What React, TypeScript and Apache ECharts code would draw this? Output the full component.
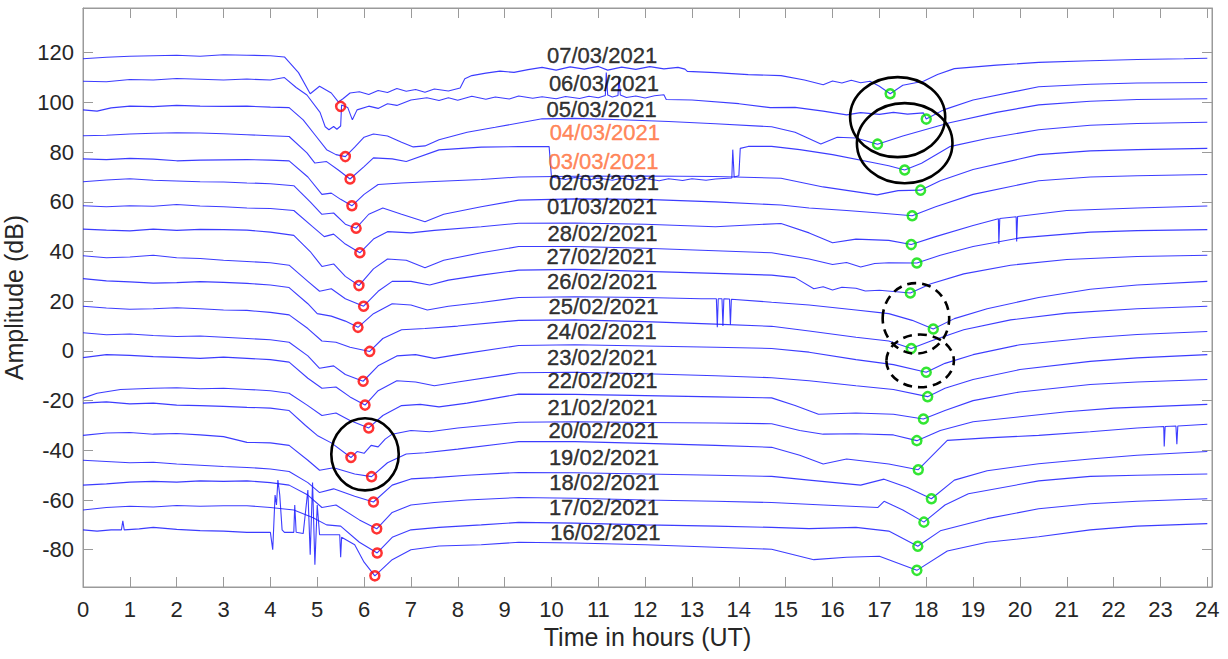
import React, { useEffect, useRef } from 'react';
import * as echarts from 'echarts';

// ---------- labels ----------
const dateLabels = ['07/03/2021','06/03/2021','05/03/2021','04/03/2021','03/03/2021','02/03/2021','01/03/2021','28/02/2021','27/02/2021','26/02/2021','25/02/2021','24/02/2021','23/02/2021','22/02/2021','21/02/2021','20/02/2021','19/02/2021','18/02/2021','17/02/2021','16/02/2021'];
const labelX = [11.08,11.12,11.07,11.14,11.11,11.12,11.08,11.09,11.07,11.08,11.11,11.07,11.08,11.09,11.09,11.11,11.12,11.13,11.12,11.15];
const labelY = [118.9,107.5,97.1,87.8,76.2,67.6,58.0,47.3,37.9,27.8,17.7,7.9,-2.5,-11.9,-22.7,-32.1,-42.9,-52.9,-63.0,-73.1];
const highlighted = ['04/03/2021','03/03/2021'];

const xTicks = [0,1,2,3,4,5,6,7,8,9,10,11,12,13,14,15,16,17,18,19,20,21,22,23,24];
const yTicks = [-80,-60,-40,-20,0,20,40,60,80,100,120];

// ---------- traces (hours UT, dB) ----------
const t0703 = [[0,117.6],[0.5,118.2],[1,118.6],[1.5,118.8],[2,119.0],[2.5,118.6],[3,119.2],[3.5,119.0],[4,118.8],[4.3,118.3],[4.6,112],[4.85,103.5],[5.05,106.5],[5.3,103.8],[5.45,100.2],[5.55,101.5],[5.7,103.8],[5.9,104.3],[6.1,103.2],[6.3,104.8],[6.5,104.0],[6.7,105.6],[6.9,104.5],[7.1,105.2],[7.3,104.1],[7.5,105.4],[7.8,104.6],[8.05,105.8],[8.15,109.5],[8.3,110.8],[8.6,111.8],[8.9,112.6],[9.2,112.1],[9.5,113.2],[9.8,114.1],[10.1,113.0],[10.4,114.3],[10.7,113.4],[11.0,114.5],[11.2,113.0],[11.5,114.2],[11.8,113.3],[12.1,114.4],[12.4,113.5],[12.7,114.1],[12.85,113.4],[12.9,112.5],[13.5,112.0],[14.2,111.2],[14.9,110.8],[15.4,109.0],[15.8,107.1],[16.0,108.6],[16.2,107.8],[16.4,108.9],[16.6,107.9],[16.8,108.5],[17.0,106.5],[17.23,103.5],[17.5,106.9],[17.94,108.5],[18.24,111.2],[18.6,113.6],[19.5,115.0],[20.4,116.1],[21.5,116.8],[22.5,117.3],[23.5,117.6],[24,117.8]];
const t0603 = [[0,108.5],[0.5,108.3],[1,109.2],[1.5,109.0],[2,109.6],[2.5,109.3],[3,109.0],[3.5,109.4],[4,109.0],[4.3,110.0],[4.55,106.0],[4.78,103.0],[5.06,96.0],[5.17,90.2],[5.25,89.0],[5.35,90.3],[5.42,89.2],[5.5,90.5],[5.52,99.0],[5.65,98.0],[5.75,93.0],[5.85,97.0],[6.1,98.5],[6.3,97.6],[6.5,99.5],[6.7,98.8],[7.0,101.0],[7.34,101.9],[7.6,100.8],[7.8,101.9],[8.0,100.9],[8.3,102.5],[8.6,101.3],[8.8,102.2],[9.1,101.4],[9.3,102.6],[9.6,101.7],[9.8,102.3],[10.1,101.5],[10.3,102.4],[10.6,101.6],[10.8,102.5],[11.0,101.9],[11.15,102.8],[11.17,112.0],[11.2,103.0],[11.3,102.2],[11.42,102.8],[11.44,110.0],[11.47,103.0],[11.6,102.0],[11.8,102.6],[12.0,101.8],[12.2,102.7],[12.4,103.1],[12.45,101.2],[13.0,101.0],[14.0,99.5],[14.67,97.9],[15.2,98.0],[15.8,96.5],[16.3,95.0],[16.6,95.9],[17.0,95.2],[17.3,96.0],[17.6,95.3],[17.94,95.8],[18.0,93.3],[18.37,97.0],[19.0,101.0],[20.4,106.3],[21.5,107.3],[22.5,107.8],[24,108.0]];
const t0503 = [[0,97.0],[0.3,96.5],[0.6,97.8],[1,98.5],[1.5,98.3],[2,98.8],[2.5,98.5],[3,98.4],[3.5,98.5],[4,98.1],[4.4,97.9],[4.7,93.0],[4.95,87.0],[5.2,81.0],[5.4,79.0],[5.6,78.2],[5.8,82.0],[6.0,86.0],[6.2,87.3],[6.5,86.5],[6.8,84.0],[7.05,82.1],[7.3,82.5],[7.6,85.0],[8.2,88.0],[8.8,90.0],[9.8,93.4],[10.5,93.6],[11.5,93.0],[12.5,92.3],[13.5,91.4],[14.7,90.2],[15.2,88.0],[15.75,83.3],[16.1,86.0],[16.5,85.7],[16.96,83.2],[17.5,86.5],[18.5,91.8],[19.5,96.0],[20.4,99.0],[21.5,100.5],[22.5,101.2],[24,101.5]];
const t0403 = [[0,86.6],[0.5,86.8],[1,87.3],[1.5,87.6],[2,87.8],[2.5,87.7],[3,87.4],[3.5,87.0],[4,86.6],[4.4,86.3],[4.78,79.7],[4.95,75.6],[5.2,76.2],[5.45,72.8],[5.7,69.2],[6.0,74.2],[6.2,77.7],[6.6,77.3],[6.9,76.2],[7.6,80.9],[8.5,82.0],[9.3,82.2],[9.95,82.2],[10.0,70.0],[10.3,69.0],[10.5,69.8],[10.8,68.8],[11.0,69.6],[11.3,68.7],[11.5,69.5],[11.8,68.6],[12.0,69.4],[12.3,68.5],[12.5,69.3],[12.8,68.6],[13.0,69.3],[13.3,68.7],[13.5,69.2],[13.85,69.6],[13.87,81.0],[13.9,70.0],[14.0,70.5],[14.03,81.5],[14.2,82.3],[14.7,82.3],[15.3,81.0],[16.0,79.0],[16.8,76.0],[17.2,74.5],[17.54,72.8],[17.9,75.5],[18.5,82.2],[19.3,85.5],[20.4,89.0],[21.5,90.8],[22.5,91.5],[24,92.0]];
const t0303 = [[0,77.3],[0.5,77.0],[1,77.5],[1.5,77.2],[2,76.5],[2.5,76.8],[3,76.9],[3.5,77.0],[4,76.8],[4.4,76.5],[4.8,70.0],[5.1,63.0],[5.3,63.5],[5.5,61.0],[5.74,58.4],[6.0,63.0],[6.3,67.0],[6.8,67.6],[7.5,68.2],[8.5,69.0],[9.3,70.0],[10.5,70.3],[12,70.4],[13.5,70.2],[14.9,69.5],[15.8,66.0],[16.95,62.8],[17.4,64.5],[17.88,64.7],[18.3,68.5],[19,73.0],[20.4,79.0],[21.5,80.5],[22.5,81.0],[24,81.5]];
const t0203 = [[0,68.1],[0.5,68.8],[1,69.3],[1.5,68.7],[2,68.4],[2.5,68.1],[3,68.0],[3.5,67.6],[4,67.3],[4.5,66.5],[4.85,60.0],[5.1,55.0],[5.35,55.5],[5.6,51.0],[5.83,49.4],[6.1,55.0],[6.4,57.5],[6.8,55.0],[7.3,52.0],[7.7,55.0],[8.5,58.0],[9.3,60.7],[10.5,61.2],[12,61.0],[13.5,60.0],[14.9,58.7],[15.5,57.5],[16.3,56.5],[17,55.5],[17.7,54.4],[18.2,58.0],[19,63.0],[20.4,68.5],[21.5,70.0],[22.5,70.5],[24,71.0]];
const t0103 = [[0,58.4],[0.5,58.0],[1,58.4],[1.5,58.2],[2,58.9],[2.5,58.3],[3,58.0],[3.5,57.5],[4,57.3],[4.5,56.5],[4.9,50.0],[5.15,46.0],[5.35,47.0],[5.6,43.0],[5.91,39.5],[6.2,45.0],[6.5,48.0],[7,47.5],[7.5,48.5],[8.5,50.0],[9.3,51.4],[10.5,51.5],[12,51.0],[13.5,50.0],[14.9,51.3],[15.5,47.5],[16.0,43.5],[16.5,45.0],[17.2,44.5],[17.68,42.8],[18.2,46.0],[19,50.5],[19.54,53.2],[19.55,43.0],[19.57,53.3],[19.92,54.0],[19.93,44.0],[19.95,54.1],[21,56.5],[22.5,57.5],[24,58.3]];
const t2802 = [[0,49.0],[0.5,48.6],[1,48.3],[1.5,49.0],[2,48.5],[2.5,48.9],[3,48.8],[3.5,48.6],[4,47.8],[4.5,46.5],[4.85,40.0],[5.1,34.0],[5.35,35.0],[5.6,30.0],[5.89,26.3],[6.2,33.0],[6.5,37.0],[6.9,36.5],[7.3,33.5],[7.7,36.5],[8.5,39.5],[9.3,42.0],[10.5,42.0],[12,41.3],[13.5,40.3],[14.7,39.5],[15.5,37.0],[16.0,34.8],[16.3,35.6],[16.6,33.8],[16.9,35.2],[17.2,35.5],[17.8,35.4],[18.3,38.5],[19,42.0],[20,45.5],[21.5,47.8],[22.5,48.4],[24,48.8]];
const t2702 = [[0,38.3],[0.5,37.5],[1,37.8],[1.5,38.5],[2,37.5],[2.5,37.2],[3,36.5],[3.5,36.0],[4,35.5],[4.4,34.5],[4.8,28.0],[5.05,24.0],[5.3,25.0],[5.6,21.0],[5.99,18.0],[6.3,24.0],[6.6,28.0],[7,28.0],[7.4,26.5],[7.8,28.5],[8.5,30.5],[9.3,32.5],[10.5,32.8],[12,32.0],[13.5,31.2],[14.7,30.5],[15.2,29.5],[15.6,25.0],[15.8,25.8],[16.0,24.5],[16.2,25.6],[16.5,25.2],[16.7,24.1],[17.0,24.4],[17.66,23.3],[18.1,27.0],[18.8,31.0],[19.8,34.5],[21,36.8],[22.5,38.0],[24,38.5]];
const t2602 = [[0,29.1],[0.5,28.2],[1,27.8],[1.5,27.3],[2,27.5],[2.5,27.9],[3,27.6],[3.5,27.2],[4,26.5],[4.4,25.5],[4.8,19.0],[5.0,15.0],[5.3,14.0],[5.6,12.0],[5.87,9.5],[6.2,15.0],[6.6,19.0],[7,18.5],[7.35,16.5],[7.8,18.0],[8.5,19.5],[9.3,21.5],[10.5,21.8],[12,21.5],[13.2,21.0],[13.52,21.0],[13.54,9.5],[13.56,21.0],[13.64,21.0],[13.66,10.0],[13.68,21.0],[13.8,20.9],[13.82,10.5],[13.84,20.8],[14.7,19.6],[15.5,18.5],[16.5,16.5],[17.2,15.0],[17.7,12.3],[18.15,8.8],[18.6,13.0],[19.3,17.0],[20.4,21.5],[21.5,24.8],[22.5,26.5],[24,28.0]];
const t2502 = [[0,18.0],[0.5,17.3],[1,16.8],[1.5,17.0],[2,17.4],[2.5,17.0],[3,16.5],[3.5,16.3],[4,15.5],[4.4,14.5],[4.8,9.0],[5.1,4.0],[5.4,3.5],[5.7,1.5],[6.12,-0.2],[6.4,5.0],[6.8,8.5],[7.3,9.0],[8,10.0],[9.3,12.3],[10.5,12.5],[12,11.8],[13.5,10.8],[14.7,9.9],[15.5,8.0],[16.5,5.5],[17.2,4.0],[17.68,1.0],[18.1,4.0],[18.8,8.5],[19.8,12.5],[21,15.2],[22.5,17.0],[24,18.0]];
const t2402 = [[0,7.3],[0.5,6.5],[1,6.8],[1.5,6.2],[2,5.8],[2.5,6.0],[3,5.5],[3.5,5.0],[4,4.5],[4.4,3.5],[4.8,-2.0],[5.05,-7.0],[5.35,-6.0],[5.6,-9.5],[5.98,-12.2],[6.3,-6.0],[6.7,-2.0],[7.1,-1.5],[7.5,-3.0],[8,-1.5],[9.3,2.2],[10.5,2.5],[12,2.0],[13.5,1.5],[14.7,1.0],[15.5,-0.5],[16.5,-3.5],[17.3,-5.5],[18.0,-8.6],[18.4,-5.0],[19,-1.5],[20,2.5],[21.5,5.3],[22.5,6.6],[24,7.8]];
const t2302 = [[0,-2.7],[0.5,-1.5],[1,-1.8],[1.5,-2.3],[2,-2.6],[2.5,-3.0],[3,-2.5],[3.5,-3.0],[4,-3.5],[4.4,-4.5],[4.8,-11.0],[5.1,-15.0],[5.4,-14.5],[5.7,-18.5],[6.02,-21.8],[6.3,-16.0],[6.7,-12.0],[7.1,-12.5],[7.5,-14.0],[8,-12.5],[9.3,-8.8],[10.5,-8.6],[12,-9.2],[13.5,-10.0],[14.7,-10.8],[15.5,-12.0],[16.5,-14.0],[17.3,-15.5],[18.03,-18.4],[18.4,-15.0],[19,-11.5],[20,-7.5],[21.5,-4.2],[22.5,-2.8],[24,-1.5]];
const t2202 = [[0,-19.0],[0.3,-17.0],[0.8,-15.5],[1.5,-15.0],[2,-14.8],[2.5,-15.2],[3,-15.0],[3.5,-15.5],[4,-16.0],[4.4,-17.0],[4.8,-22.0],[5.1,-26.0],[5.4,-25.0],[5.7,-28.0],[6.10,-31.0],[6.4,-26.0],[6.8,-22.0],[7.2,-21.5],[7.6,-22.5],[8.2,-21.0],[9.3,-17.4],[10.5,-17.5],[12,-18.0],[13.5,-18.5],[14.7,-18.9],[15.2,-22.0],[15.7,-25.5],[16.5,-25.0],[17.3,-25.5],[17.94,-27.4],[18.4,-24.0],[19,-20.0],[20,-16.5],[21.5,-13.5],[22.5,-12.5],[24,-11.5]];
const t2102 = [[0,-21.0],[0.5,-20.5],[1,-21.3],[1.5,-21.0],[2,-21.8],[2.5,-22.0],[3,-22.3],[3.5,-22.7],[4,-23.0],[4.4,-24.0],[4.75,-30.0],[5.0,-34.0],[5.3,-37.0],[5.72,-42.9],[5.85,-40.5],[6.0,-41.2],[6.15,-38.0],[6.3,-38.6],[6.45,-35.5],[6.6,-33.5],[7.0,-32.0],[7.4,-32.5],[8,-31.0],[9.3,-28.7],[10.5,-28.5],[12,-28.8],[13.5,-29.0],[14.7,-29.3],[15.3,-32.0],[15.8,-33.5],[16.5,-33.3],[17.3,-33.8],[17.8,-36.1],[18.3,-32.0],[19,-28.5],[20,-26.5],[21,-24.5],[22,-23.0],[24,-21.5]];
const t2002 = [[0,-34.0],[0.5,-33.0],[1,-32.8],[1.5,-33.5],[2,-33.2],[2.5,-33.8],[3,-34.5],[3.5,-36.8],[4,-37.0],[4.4,-38.0],[4.8,-44.0],[5.05,-48.0],[5.35,-47.0],[5.8,-49.5],[6.16,-50.6],[6.5,-45.0],[6.9,-41.5],[7.3,-41.0],[8,-39.5],[9.3,-36.5],[10.5,-36.5],[12,-37.2],[13.5,-38.0],[14.7,-38.8],[15.3,-42.0],[15.8,-45.5],[16.3,-43.5],[17.2,-45.5],[17.83,-47.8],[18.45,-36.0],[19.3,-35.0],[20.4,-34.0],[21.5,-32.5],[22.5,-31.0],[23.07,-30.4],[23.08,-38.5],[23.1,-30.4],[23.33,-30.2],[23.35,-37.5],[23.37,-30.2],[24,-29.5]];
const t1902 = [[0,-44.0],[0.5,-44.5],[1,-45.0],[1.5,-44.8],[2,-45.5],[2.5,-46.0],[3,-46.5],[3.5,-46.9],[4,-47.5],[4.4,-48.5],[4.8,-53.0],[5.05,-57.0],[5.35,-55.5],[5.8,-58.5],[6.20,-60.8],[6.6,-54.0],[7,-51.5],[7.5,-51.0],[8.2,-50.0],[9.3,-48.9],[10.5,-49.0],[12,-49.5],[13.5,-50.0],[14.7,-50.5],[15.5,-52.0],[16.6,-54.0],[17.1,-51.6],[17.6,-55.0],[18.11,-59.5],[18.6,-52.0],[19.3,-48.2],[20.4,-45.4],[21.5,-43.5],[22.5,-42.0],[24,-40.5]];
const t1802 = [[0,-54.0],[0.5,-53.5],[1,-52.8],[1.5,-52.5],[2,-52.8],[2.5,-52.3],[3,-52.5],[3.5,-52.3],[4,-53.0],[4.4,-54.0],[4.8,-58.0],[5.1,-63.0],[5.4,-62.0],[5.9,-68.0],[6.27,-71.6],[6.6,-65.0],[7,-62.0],[7.5,-61.0],[8.2,-60.0],[9.3,-59.0],[10.5,-59.3],[12,-60.0],[13.5,-60.5],[14.7,-61.0],[15.8,-62.0],[16.97,-63.0],[17.1,-60.5],[17.5,-64.0],[17.95,-68.9],[18.4,-62.0],[18.9,-57.5],[20.4,-52.3],[21.5,-50.5],[22.5,-50.0],[24,-49.5]];
const t1702 = [[0,-64.0],[0.5,-63.0],[1,-62.5],[1.5,-62.8],[2,-62.2],[2.5,-62.5],[3,-62.3],[3.5,-62.3],[4,-63.0],[4.5,-64.0],[4.9,-67.0],[5.2,-70.0],[5.5,-70.5],[5.9,-77.0],[6.28,-81.3],[6.6,-75.0],[7,-72.0],[7.6,-71.0],[8.5,-70.0],[9.3,-69.0],[10.5,-69.3],[12,-70.0],[13.5,-70.5],[14.7,-71.0],[15.5,-71.5],[16.5,-71.0],[17.2,-72.5],[17.82,-78.6],[18.3,-72.4],[19.3,-67.5],[20.4,-63.5],[21.5,-61.5],[22.5,-60.5],[24,-59.5]];
const t1602 = [[0,-72.0],[0.3,-72.5],[0.6,-72.0],[0.82,-72.0],[0.85,-68.4],[0.88,-72.0],[1.2,-71.6],[1.5,-71.0],[2,-71.8],[2.5,-72.3],[3,-72.5],[3.5,-73.0],[4.0,-73.0],[4.05,-80.0],[4.1,-58.0],[4.13,-62.0],[4.16,-52.0],[4.2,-58.0],[4.25,-72.0],[4.3,-73.0],[4.5,-73.0],[4.52,-62.0],[4.55,-73.0],[4.7,-73.5],[4.8,-56.0],[4.85,-82.0],[4.9,-53.0],[4.95,-86.0],[5.0,-62.0],[5.05,-74.0],[5.3,-74.0],[5.48,-74.0],[5.5,-83.0],[5.52,-75.0],[5.8,-78.0],[6.0,-85.0],[6.23,-90.5],[6.6,-84.0],[7,-80.0],[7.6,-78.5],[8.5,-78.0],[9.3,-77.0],[10.5,-77.3],[12,-78.0],[13.5,-79.0],[14.7,-79.8],[15.6,-84.0],[16.3,-83.0],[17,-82.6],[17.8,-88.3],[18.45,-80.5],[19.3,-77.0],[20.4,-74.8],[21.5,-72.0],[22.5,-70.5],[24,-69.5]];

const traces = [t0703,t0603,t0503,t0403,t0303,t0203,t0103,t2802,t2702,t2602,t2502,t2402,t2302,t2202,t2102,t2002,t1902,t1802,t1702,t1602];

// ---------- markers ----------
const redCircles = [[5.50,98.4],[5.60,78.2],[5.70,69.2],[5.74,58.4],[5.83,49.4],[5.91,39.5],[5.89,26.3],[5.99,18.0],[5.87,9.5],[6.12,-0.2],[5.98,-12.2],[6.02,-21.8],[6.10,-31.0],[5.72,-42.9],[6.16,-50.6],[6.20,-60.8],[6.27,-71.6],[6.28,-81.3],[6.23,-90.5]];
const greenCircles = [[17.23,103.5],[18.00,93.3],[16.96,83.2],[17.54,72.8],[17.88,64.7],[17.70,54.4],[17.68,42.8],[17.80,35.4],[17.66,23.3],[18.15,8.8],[17.68,1.0],[18.00,-8.6],[18.03,-18.4],[17.94,-27.4],[17.80,-36.1],[17.83,-47.8],[18.11,-59.5],[17.95,-68.9],[17.82,-78.6],[17.80,-88.3]];
// [centre x, centre y, half-width (h), half-height (dB)]
const solidRings = [[6.02,-41.6,0.72,14.5],[17.39,94.1,1.015,16.1],[17.54,83.6,1.02,16.1]];
const dashedRings = [[17.78,13.1,0.71,14.2],[17.87,-4.0,0.72,10.6]];

const FONT = '"Liberation Sans", Arial, Helvetica, sans-serif';
const AXIS_GRAY = '#9a9a9a';
const TEXT_DARK = '#262626';

function ringSeries(data: number[][], dashed: boolean) {
  return {
    type: 'custom',
    data,
    encode: { x: 0, y: 1 },
    z: 10,
    silent: true,
    renderItem: (_p: any, api: any) => {
      const c = api.coord([api.value(0), api.value(1)]);
      const s = api.size([api.value(2), api.value(3)]);
      return {
        type: 'ellipse',
        shape: { cx: c[0], cy: c[1], rx: s[0], ry: s[1] },
        style: { fill: 'none', stroke: '#000', lineWidth: 2.6, lineDash: dashed ? [9, 6] : null },
      };
    },
  };
}

export default function App() {
  const ref = useRef<HTMLDivElement>(null);
  useEffect(() => {
    if (!ref.current) return;
    const chart = echarts.init(ref.current, null, { renderer: 'svg' });
    const lineSeries = traces.map((d, i) => ({
      type: 'line',
      name: dateLabels[i],
      data: d,
      showSymbol: false,
      silent: true,
      lineStyle: { color: '#1a1aff', width: 1.1, opacity: 0.85 },
      z: 2,
    }));
    const axisLine = { show: true, onZero: false, lineStyle: { color: AXIS_GRAY, width: 1 } };
    const option: any = {
      animation: false,
      backgroundColor: '#ffffff',
      textStyle: { fontFamily: FONT },
      grid: { left: 83, right: 16, top: 8, bottom: 72, outerBoundsMode: 'none', containLabel: false, show: true, borderColor: AXIS_GRAY, borderWidth: 1, backgroundColor: 'transparent' },
      xAxis: [
        {
          type: 'value', min: 0, max: 24.1, interval: 1, position: 'bottom',
          name: 'Time in hours (UT)', nameLocation: 'middle', nameGap: 37,
          nameTextStyle: { fontSize: 25, color: TEXT_DARK, fontFamily: FONT },
          axisLine,
          axisTick: { show: true, inside: true, length: 10, lineStyle: { color: AXIS_GRAY }, customValues: xTicks },
          axisLabel: { fontSize: 22, color: TEXT_DARK, fontFamily: FONT, margin: 11, customValues: xTicks },
          splitLine: { show: false },
        },
        {
          type: 'value', min: 0, max: 24.1, position: 'top',
          axisLine,
          axisTick: { show: true, inside: true, length: 10, lineStyle: { color: AXIS_GRAY }, customValues: xTicks },
          axisLabel: { show: false },
          splitLine: { show: false },
        },
      ],
      yAxis: [
        {
          type: 'value', min: -95, max: 138, position: 'left',
          name: 'Amplitude (dB)', nameLocation: 'middle', nameGap: 48,
          nameTextStyle: { fontSize: 25, color: TEXT_DARK, fontFamily: FONT },
          axisLine,
          axisTick: { show: true, inside: true, length: 10, lineStyle: { color: AXIS_GRAY }, customValues: yTicks },
          axisLabel: { fontSize: 22, color: TEXT_DARK, fontFamily: FONT, margin: 9, customValues: yTicks },
          splitLine: { show: false },
        },
        {
          type: 'value', min: -95, max: 138, position: 'right',
          axisLine,
          axisTick: { show: true, inside: true, length: 10, lineStyle: { color: AXIS_GRAY }, customValues: yTicks },
          axisLabel: { show: false },
          splitLine: { show: false },
        },
      ],
      series: [
        ...lineSeries,
        {
          type: 'scatter', data: redCircles, symbol: 'circle', symbolSize: 9, silent: true, z: 5,
          itemStyle: { color: 'rgba(0,0,0,0)', borderColor: '#ff0000', borderWidth: 2.5 },
        },
        {
          type: 'scatter', data: greenCircles, symbol: 'circle', symbolSize: 9, silent: true, z: 5,
          itemStyle: { color: 'rgba(0,0,0,0)', borderColor: '#00e000', borderWidth: 2.5 },
        },
        ringSeries(solidRings, false),
        ringSeries(dashedRings, true),
        {
          type: 'scatter', symbolSize: 0, silent: true, z: 8,
          data: dateLabels.map((t, i) => {
            const col = highlighted.includes(t) ? '#ff6a33' : '#000000';
            return {
              value: [labelX[i], labelY[i]],
              name: t,
              label: { color: col, textBorderColor: col, textBorderWidth: 0.4 },
            };
          }),
          label: { show: true, position: 'inside', formatter: (p: any) => p.name, fontSize: 22, fontFamily: FONT, textShadowBlur: 0 },
        },
      ],
    };
    chart.setOption(option);
    return () => chart.dispose();
  }, []);
  return <div ref={ref} style={{ position: 'absolute', left: 0, top: 0, width: 1228, height: 659 }} />;
}
